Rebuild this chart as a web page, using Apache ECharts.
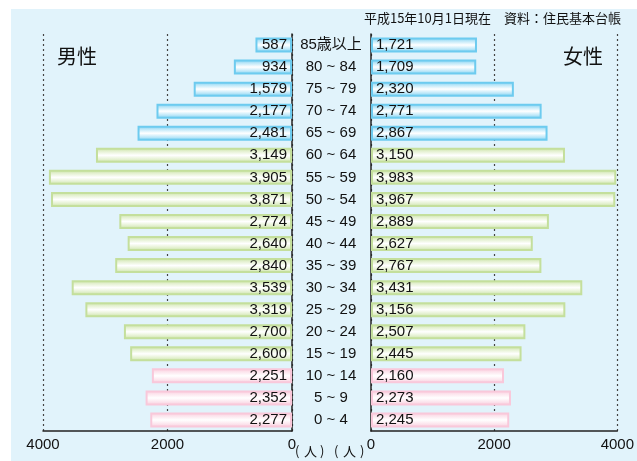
<!DOCTYPE html>
<html><head><meta charset="utf-8">
<script src="https://cdn.jsdelivr.net/npm/echarts@6/dist/echarts.min.js"></script>
<style>html,body{margin:0;padding:0;background:#fff}#c{width:637px;height:461px}</style>
</head><body><div id="c"></div>
<script>
var ages = ['85歳以上','80 ~ 84','75 ~ 79','70 ~ 74','65 ~ 69','60 ~ 64','55 ~ 59','50 ~ 54','45 ~ 49','40 ~ 44','35 ~ 39','30 ~ 34','25 ~ 29','20 ~ 24','15 ~ 19','10 ~ 14','5 ~ 9','0 ~ 4'];
var male = [587,934,1579,2177,2481,3149,3905,3871,2774,2640,2840,3539,3319,2700,2600,2251,2352,2277];
var female = [1721,1709,2320,2771,2867,3150,3983,3967,2889,2627,2767,3431,3156,2507,2445,2160,2273,2245];
var groups = ['old','old','old','old','old','mid','mid','mid','mid','mid','mid','mid','mid','mid','mid','young','young','young'];
var axisTicks = [0,2000,4000];

var palette = {
  old:   {base:'#6dcbef', light:'#b9e6f8'},
  mid:   {base:'#c4df9c', light:'#e3f0cf'},
  young: {base:'#f9c8da', light:'#fce3ec'}
};
function style(g){
  var p = palette[g];
  return {
    color:{type:'linear',x:0,y:0,x2:0,y2:1,colorStops:[
      {offset:0,color:p.base},{offset:0.22,color:p.light},{offset:0.5,color:'#ffffff'},
      {offset:0.78,color:p.light},{offset:1,color:p.base}]},
    borderColor:p.base, borderWidth:2
  };
}
function items(vals){
  return vals.map(function(v,i){return {value:v,itemStyle:style(groups[i])};});
}
function fmt(p){return p.value.toLocaleString('en-US');}

var FONT = '"Liberation Sans", Arial, "Noto Sans CJK JP", sans-serif';
var CJK = '"Noto Sans CJK JP", sans-serif';
var chart = echarts.init(document.getElementById('c'), null, {renderer:'canvas'});
var xCommon = {
  type:'value', min:0, max:4000, interval:2000,
  axisLine:{show:true,lineStyle:{color:'#222',width:1.5}},
  axisTick:{show:false},
  axisLabel:{color:'#111',fontSize:15,fontFamily:FONT,margin:6,formatter:function(v){return String(v);}},
  splitLine:{show:true,lineStyle:{color:'#444',type:[2,3],width:1.2}}
};
function unitText(x, ch){
  return {type:'text',left:x,top:445,style:{text:ch,fontSize:13,fill:'#111',fontFamily:CJK}};
}
chart.setOption({
  animation:false,
  backgroundColor:'#ffffff',
  graphic:[
    {type:'rect',left:11,top:9,z:-10,shape:{width:626,height:452},style:{fill:'#e1f3fb'}},
    {type:'text',left:57,top:46,style:{text:'男性',fontSize:20,fill:'#111',fontFamily:CJK}},
    {type:'text',left:563,top:46,style:{text:'女性',fontSize:20,fill:'#111',fontFamily:CJK}},
    {type:'text',right:16,top:12,style:{text:'平成15年10月1日現在　資料：住民基本台帳',fontSize:13,fill:'#111',fontFamily:CJK}},
    unitText(295,'('), unitText(304,'人'), unitText(320,')'),
    unitText(334,'('), unitText(343,'人'), unitText(360,')')
  ],
  grid:[
    {left:43,right:345,top:34,bottom:30},
    {left:371,right:17,top:34,bottom:30}
  ],
  xAxis:[
    Object.assign({gridIndex:0,inverse:true},xCommon),
    Object.assign({gridIndex:1},xCommon)
  ],
  yAxis:[
    {gridIndex:0,type:'category',data:ages,inverse:true,position:'right',
     axisLine:{show:true,onZero:false,lineStyle:{color:'#222',width:1.5}},axisTick:{show:false},
     axisLabel:{show:true,align:'center',margin:39,fontSize:15,color:'#111',fontFamily:FONT}},
    {gridIndex:1,type:'category',data:ages,inverse:true,position:'left',
     axisLine:{show:true,onZero:false,lineStyle:{color:'#222',width:1.5}},axisTick:{show:false},
     axisLabel:{show:false}}
  ],
  series:[
    {type:'bar',xAxisIndex:0,yAxisIndex:0,data:items(male),barWidth:15,
     label:{show:true,position:'insideRight',distance:5,formatter:fmt,fontSize:15,color:'#111',fontFamily:FONT}},
    {type:'bar',xAxisIndex:1,yAxisIndex:1,data:items(female),barWidth:15,
     label:{show:true,position:'insideLeft',distance:5,formatter:fmt,fontSize:15,color:'#111',fontFamily:FONT}}
  ]
});
</script></body></html>
